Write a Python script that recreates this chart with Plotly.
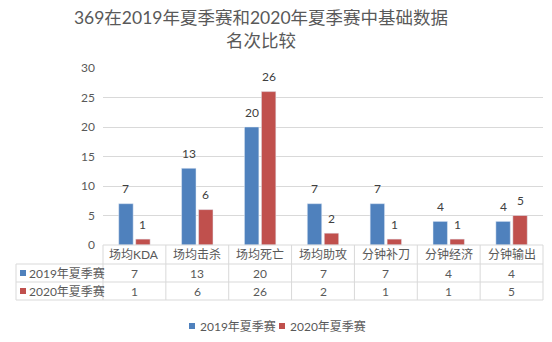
import plotly.graph_objects as go

# Data
categories = ["场均KDA", "场均击杀", "场均死亡", "场均助攻", "分钟补刀", "分钟经济", "分钟输出"]
series_names = ["2019年夏季赛", "2020年夏季赛"]
rank_2019 = [7, 13, 20, 7, 7, 4, 4]
rank_2020 = [1, 6, 26, 2, 1, 1, 5]
y_ticks = [0, 5, 10, 15, 20, 25, 30]

series_values = [rank_2019, rank_2020]
colors = ["#4F81BD", "#C0504D"]
title_text = "369在2019年夏季赛和2020年夏季赛中基础数据<br>名次比较"

# Layout geometry (pixels)
W, H = 552, 342
L, R, T, B = 103, 9, 68, 97
PW, PH = W - L - R, H - T - B
BARGAP, GROUPGAP = 0.46, 0.15

FONT = "Lato, 'Noto Sans CJK SC', sans-serif"
TXT = "#595959"
GRID = "#D9D9D9"


def pxx(x):
    """pixel x -> paper x"""
    return (x - L) / PW


def pxy(y):
    """pixel y (from top) -> paper y"""
    return (T + PH - y) / PH


fig = go.Figure()
for name, vals, col in zip(series_names, series_values, colors):
    fig.add_trace(go.Bar(x=categories, y=vals, name=name, marker_color=col,
                         showlegend=False))

shapes = []
annotations = []

# Value labels above bars
slot = PW / len(categories) * (1 - BARGAP) / 2
for s, vals in enumerate(series_values):
    shift = (s - 0.5) * slot
    for cat, v in zip(categories, vals):
        annotations.append(dict(x=cat, y=v, xref="x", yref="y", text=str(v),
                                showarrow=False, xshift=shift, yshift=15,
                                yanchor="middle",
                                font=dict(family=FONT, size=12, color="#404040")))

# Data table under the plot
n = len(categories)
row_top, row1, row2, row_bot = 245, 264, 282, 300
line = dict(color=GRID, width=1)
for yp, x0 in [(row_top, L), (row1, 16), (row2, 16), (row_bot, 16)]:
    shapes.append(dict(type="line", xref="paper", yref="paper",
                       x0=pxx(x0), x1=1, y0=pxy(yp), y1=pxy(yp), line=line))
for i in range(n + 1):
    shapes.append(dict(type="line", xref="paper", yref="paper",
                       x0=i / n, x1=i / n, y0=pxy(row_top), y1=pxy(row_bot),
                       line=line))
shapes.append(dict(type="line", xref="paper", yref="paper",
                   x0=pxx(16), x1=pxx(16), y0=pxy(row1), y1=pxy(row_bot),
                   line=line))

# Header row (categories)
for i, cat in enumerate(categories):
    annotations.append(dict(x=(i + 0.5) / n, y=pxy((row_top + row1) / 2),
                            xref="paper", yref="paper", text=cat,
                            showarrow=False, xanchor="center", yanchor="middle",
                            font=dict(family=FONT, size=12, color=TXT)))

# Series rows
for (ya, yb), name, vals, col in zip([(row1, row2), (row2, row_bot)],
                                     series_names, series_values, colors):
    yc = (ya + yb) / 2
    shapes.append(dict(type="rect", xref="paper", yref="paper",
                       x0=pxx(20), x1=pxx(26), y0=pxy(yc - 3), y1=pxy(yc + 3),
                       fillcolor=col, line=dict(width=0)))
    annotations.append(dict(x=pxx(27), y=pxy(yc), xref="paper", yref="paper",
                            text=name, showarrow=False, xanchor="left",
                            yanchor="middle",
                            font=dict(family=FONT, size=12, color=TXT)))
    for i, v in enumerate(vals):
        annotations.append(dict(x=(i + 0.5) / n, y=pxy(yc), xref="paper",
                                yref="paper", text=str(v), showarrow=False,
                                xanchor="center", yanchor="middle",
                                font=dict(family=FONT, size=12, color=TXT)))

# Legend at the bottom
leg_y = 326
for x_sq, name, col in zip([189, 279], series_names, colors):
    shapes.append(dict(type="rect", xref="paper", yref="paper",
                       x0=pxx(x_sq), x1=pxx(x_sq + 6),
                       y0=pxy(leg_y - 3), y1=pxy(leg_y + 3),
                       fillcolor=col, line=dict(width=0)))
    annotations.append(dict(x=pxx(x_sq + 9), y=pxy(leg_y), xref="paper",
                            yref="paper", text=name, showarrow=False,
                            xanchor="left", yanchor="middle",
                            font=dict(family=FONT, size=12, color=TXT)))

fig.update_layout(
    width=W, height=H,
    margin=dict(l=L, r=R, t=T, b=B, pad=0),
    paper_bgcolor="white", plot_bgcolor="white",
    barmode="group", bargap=BARGAP, bargroupgap=GROUPGAP,
    title=dict(text=title_text, x=261 / W, xanchor="center",
               xref="container", yref="container",
               y=1 - 24 / H, yanchor="middle",
               font=dict(family=FONT, size=17.5, color=TXT)),
    xaxis=dict(showticklabels=False, showgrid=False, zeroline=False,
               showline=False, ticks=""),
    yaxis=dict(range=[0, 30], tickvals=y_ticks, showgrid=True, gridcolor=GRID,
               gridwidth=1, zeroline=False, showline=False, ticks="",
               ticklabelstandoff=7,
               tickfont=dict(family=FONT, size=12, color=TXT)),
    shapes=shapes,
    annotations=annotations,
)

fig.write_html("out.html")
